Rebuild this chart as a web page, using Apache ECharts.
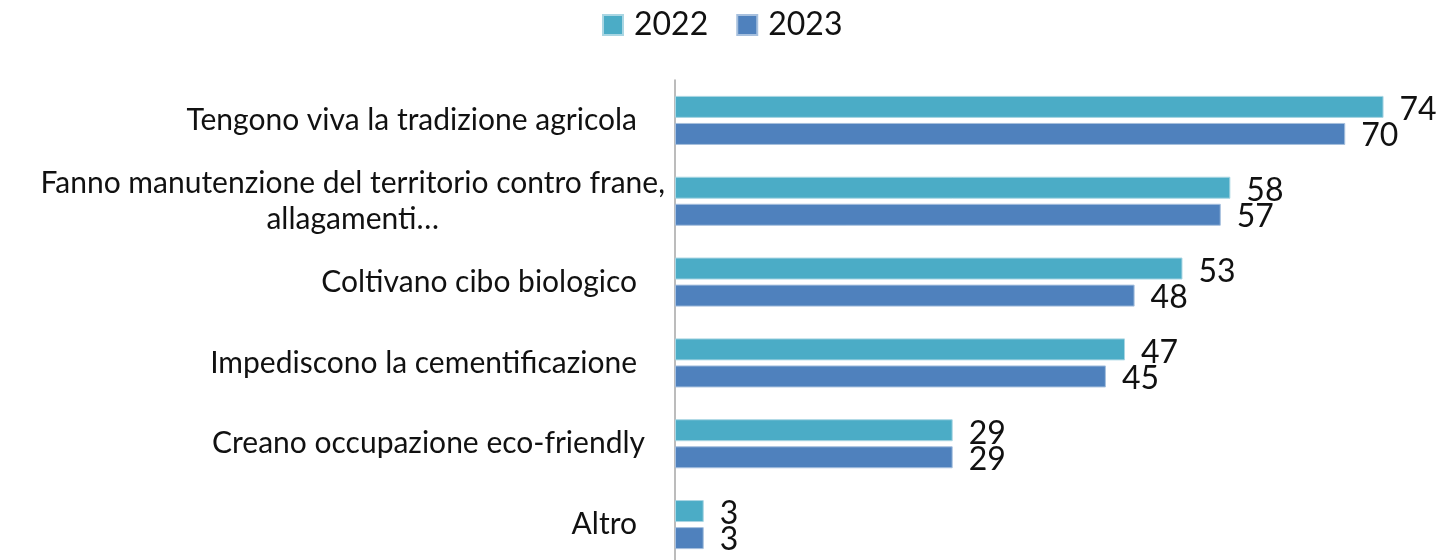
<!DOCTYPE html>
<html>
<head>
<meta charset="utf-8">
<script src="https://cdn.jsdelivr.net/npm/echarts@6/dist/echarts.min.js"></script>
<style>
    html, body { margin: 0; padding: 0; background: #fff; overflow: hidden; }
    #chart { width: 1447px; height: 565px; }
</style>
</head>
<body>
<div id="chart"></div>
<script>
var categories = [
    'Tengono viva la tradizione agricola',
    'Fanno manutenzione del territorio contro frane,\nallagamenti…',
    'Coltivano cibo biologico',
    'Impediscono la cementificazione',
    'Creano occupazione eco-friendly',
    'Altro'
];
var seriesNames = ['2022', '2023'];
var values2022 = [74, 58, 53, 47, 29, 3];
var values2023 = [70, 57, 48, 45, 29, 3];

var colors = ['#4BACC6', '#4F81BD'];
var fontName = 'Lato';

// etichette: una riga allineata a destra, due righe centrate
function formatLabel(value) {
    if (value.indexOf('\n') >= 0) {
        return value.split('\n').map(function (s) { return '{c|' + s + '}'; }).join('\n');
    }
    if (value === 'Creano occupazione eco-friendly') {
        return '{b|' + value + '}';
    }
    return '{a|' + value + '}';
}

var option = {
    color: colors,
    animation: false,
    legend: {
        data: seriesNames,
        top: 4,
        left: 597,
        itemWidth: 20,
        itemHeight: 20,
        itemGap: 28,
        icon: 'rect',
        textStyle: {
            fontFamily: fontName,
            fontSize: 32,
            color: '#111',
            padding: [0, 0, 0, 6]
        }
    },
    grid: {
        left: 675,
        right: 6,
        top: 80,
        bottom: 0
    },
    xAxis: {
        type: 'value',
        min: 0,
        max: 80,
        axisLine: { show: false },
        axisTick: { show: false },
        axisLabel: { show: false },
        splitLine: { show: false }
    },
    yAxis: {
        type: 'category',
        inverse: true,
        data: categories,
        axisLine: {
            show: true,
            lineStyle: { color: '#A6A6A6', width: 1.5 }
        },
        axisTick: { show: false },
        axisLabel: {
            margin: 10,
            formatter: formatLabel,
            rich: {
                a: {
                    fontFamily: fontName,
                    fontSize: 30,
                    color: '#111',
                    padding: [0, 28, 0, 0]
                },
                b: {
                    fontFamily: fontName,
                    fontSize: 30,
                    color: '#111',
                    padding: [0, 20, 0, 0]
                },
                c: {
                    fontFamily: fontName,
                    fontSize: 30,
                    color: '#111',
                    align: 'center',
                    lineHeight: 36
                }
            }
        }
    },
    series: [
        {
            name: seriesNames[0],
            type: 'bar',
            data: values2022,
            barWidth: 22,
            barGap: '23%',
            itemStyle: { borderColor: '#A9D6E3', borderWidth: 1 },
            label: {
                show: true,
                position: 'right',
                distance: 16,
                fontFamily: fontName,
                fontSize: 32,
                color: '#111',
                offset: [0, 3]
            }
        },
        {
            name: seriesNames[1],
            type: 'bar',
            data: values2023,
            barWidth: 22,
            itemStyle: { borderColor: '#A7C0DE', borderWidth: 1 },
            label: {
                show: true,
                position: 'right',
                distance: 16,
                fontFamily: fontName,
                fontSize: 32,
                color: '#111',
                offset: [0, 2]
            }
        }
    ]
};

var myChart = echarts.init(document.getElementById('chart'));
myChart.setOption(option);
</script>
</body>
</html>
